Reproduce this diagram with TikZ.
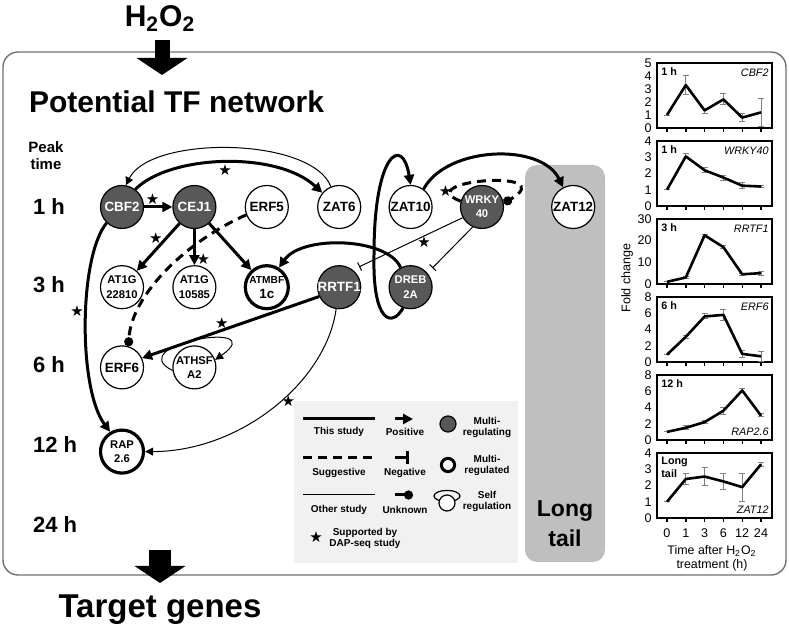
\documentclass[tikz,border=0pt]{standalone}
\usepackage{fontspec}
\setmainfont{Liberation Sans}
\newfontfamily\symfont{DejaVu Sans}
\usepackage{xcolor}
\usepackage{tikz}
\usetikzlibrary{matrix,positioning,arrows.meta}

\definecolor{nodegray}{RGB}{88,88,88}
\definecolor{legendbg}{RGB}{241,241,241}
\definecolor{tailgray}{RGB}{191,191,191}
\definecolor{framegray}{RGB}{112,112,112}
\definecolor{errgray}{RGB}{128,128,128}

\begin{document}
\begin{tikzpicture}[
x=0.5pt, y=-0.5pt,
tf/.style={
  draw,
  circle,
  fill=white,
  line width=0.6pt,
  minimum size=21.5pt,
  inner sep=-1pt,
  font=\fontsize{6.7}{7.5}\selectfont\bfseries
  },
multi/.style={fill=nodegray, text=white},
two/.style={font=\fontsize{5.6}{7.2}\selectfont\bfseries},
target/.style={line width=1.6pt},
net/.style={
  matrix of nodes,
  nodes={tf, anchor=center},
  column sep=13.6pt,
  row sep=17.5pt
  },
this/.style={line width=1.5pt},
sugg/.style={line width=1.5pt, dash pattern=on 4.5pt off 3pt},
other/.style={line width=0.5pt},
activates/.style={-{Triangle[length=#1, width=#1]}},
activates/.default=5pt,
represses/.style={-{Bar[width=#1]}},
represses/.default=4.5pt,
unclear/.style={-{Circle[length=4.5pt]}},
dap/.style={font=\symfont\fontsize{7.5}{7.5}\selectfont, inner sep=0.3pt},
hour/.style={font=\fontsize{11}{12}\selectfont\bfseries, anchor=west},
headline/.style={font=\fontsize{15}{18}\selectfont\bfseries},
legtxt/.style={font=\fontsize{5}{5.5}\selectfont\bfseries, align=center},
plotframe/.style={line width=0.7pt},
errbar/.style={draw=errgray, line width=0.45pt},
foldline/.style={line width=1.3pt, line join=round},
ticklbl/.style={font=\fontsize{6.3}{6.3}\selectfont, inner sep=1pt},
plottime/.style={font=\fontsize{5.4}{6.2}\selectfont\bfseries, align=left, inner sep=0pt},
plotgene/.style={font=\fontsize{5.4}{6}\selectfont\itshape, inner sep=0pt},
bigarrow/.style={-{Triangle[length=8.5pt, width=25pt]}}
]
\useasboundingbox (0,0) rectangle (789,625);

% frame, long tail box, legend box
\draw[draw=framegray, line width=0.7pt, rounded corners=7.5pt] (3,52) rectangle (786,575);
\fill[tailgray, rounded corners=6pt] (525,165) rectangle (605,562);
\fill[legendbg] (294,401) rectangle (518,563);

% H2O2 in, target genes out
\node[headline, anchor=base] (h2o2) at (160,27) {H\textsubscript{2}O\textsubscript{2}};
\coordinate (inflow) at (162,40);
\coordinate (inflowtip) at (162,75);
\draw[bigarrow, line width=7.5pt] (inflow) -- (inflowtip);
\coordinate (outflow) at (160,550);
\coordinate (outflowtip) at (160,583);
\draw[bigarrow, line width=11pt] (outflow) -- (outflowtip);
\node[headline, font=\fontsize{16.5}{18}\selectfont\bfseries, anchor=base] (targets) at (160,618) {Target genes};
\node[headline, anchor=base west] (tfnet) at (22,113) {Potential TF network};

% peak times
\node[font=\fontsize{7.5}{8.5}\selectfont\bfseries, align=center] (peak) at (46,156) {Peak\\time};
\foreach \lbl/\yy in {1 h/207, 3 h/285, 6 h/365, 12 h/445, 24 h/525}
  \node[hour] (h-\yy) at (26,\yy) {\lbl};

% the network
\matrix[net, matrix anchor=mat-1-1.center] (mat) at (122,207)
{
|[multi]| CBF2 & |[multi]| CEJ1 & ERF5 & ZAT6 & ZAT10 & |[multi,two]| \parbox{19pt}{\centering WRKY\\40} \\
|[two]| \parbox{19pt}{\centering AT1G\\22810} & |[two]| \parbox{19pt}{\centering AT1G\\10585} & |[target]| \parbox{19pt}{\centering{\fontsize{5.1}{6}\selectfont ATMBF}\\1c} & |[multi]| RRTF1 & |[multi,two]| \parbox{19pt}{\centering DREB\\2A} & \\
ERF6 & |[two]| \parbox{19pt}{\centering ATHSF\\A2} & & & & \\[2pt]
|[target,two]| \parbox{19pt}{\centering RAP\\2.6} & & & & & \\
};
\node[tf, right=23.5pt of mat-1-6] (zat12) {ZAT12};
\node[font=\fontsize{11.5}{15}\selectfont\bfseries, align=center] (longtail) at (565,524) {Long\\tail};

\draw[this, activates] (mat-1-1) -- node[dap, above, pos=.3] (s1) {★} (mat-1-2);
\draw[other, activates=4pt] (mat-1-4.112) .. controls +(-20,-50) and +(25,-50) .. (mat-1-1.80);
\draw[this, activates] (mat-1-1.53) .. controls +(35,-35) and +(-45,-42) .. node[dap, below, pos=.5] (s2) {★} (mat-1-4.140);
\draw[this, activates] (mat-1-2) -- node[dap, left=1pt, pos=.3] (s3) {★} (mat-2-1);
\draw[this, activates] (mat-1-2) -- node[dap, right, pos=.82] (s4) {★} (mat-2-2);
\draw[this, activates] (mat-1-2) -- (mat-2-3);
\draw[sugg, unclear] (mat-1-3.201) .. controls +(-57,25) and +(3,-53) .. (mat-3-1.73);
\draw[this, activates] (mat-2-4.205) -- node[dap, above, pos=.55] (s5) {★} (mat-3-1.25);
\draw[other, activates=4pt] (mat-3-2.188) .. controls +(-52,-26) and +(58,-41) .. (mat-3-2.20);
\draw[this, activates] (mat-2-5.117) .. controls +(-13,-30) and +(23,-33) .. (mat-2-3.58);
\draw[other, represses, shorten >=3.5pt] (mat-1-6.209) -- node[dap, below, pos=.35] (s6) {★} (mat-2-4.52);
\draw[other, represses, shorten >=3.5pt] (mat-1-6.245) -- (mat-2-5.40);
\draw[sugg, unclear] (mat-1-6.165) .. controls +(-52,-21) and +(60,-35) .. node[dap, pos=.05, above left=0pt] (s7) {★} (mat-1-6.10);
\draw[this, activates] (mat-1-5.54) .. controls +(23,-43) and +(-22,-45) .. (zat12.117);
\draw[this, activates] (mat-2-5.250) .. controls +(-11,20) and +(-2,70) .. ++(-29,-55)
  .. controls +(0,-100) and +(-8,-50) .. (mat-1-5.north);
\draw[other, activates=4pt] (mat-2-4.262) .. controls +(-10,73) and +(95,0) .. node[dap, below, pos=.42] (s8) {★} (mat-4-1.east);
\draw[this, activates] (mat-1-1.226) .. controls +(-28,34) and +(-32,-43) .. node[dap, left, pos=.45] (s9) {★} (mat-4-1.121);

% legend
\draw[this] (303,419) -- (375,419);
\node[legtxt] (l-this) at (339,432) {This study};
\draw[sugg] (303,458) -- (375,458);
\node[legtxt] (l-sugg) at (339,473) {Suggestive};
\draw[other] (303,495) -- (375,495);
\node[legtxt] (l-other) at (339,510) {Other study};
\draw[this, activates] (395,419) -- (413,419);
\node[legtxt] (l-pos) at (405,432) {Positive};
\draw[this, represses=6.5pt] (395,458) -- (409,458);
\node[legtxt] (l-neg) at (405,473) {Negative};
\draw[this, unclear] (395,495) -- (413,495);
\node[legtxt] (l-unk) at (405,510) {Unknown};
\draw[fill=nodegray, line width=0.6pt] (448,424) circle (4pt);
\node[legtxt] (l-multi) at (487,427) {Multi-\\regulating};
\draw[line width=1.5pt, fill=white] (448,465) circle (3.3pt);
\node[legtxt] (l-multd) at (487,465) {Multi-\\regulated};
\draw[line width=0.6pt] (447,496) ellipse (6.5pt and 2.8pt);
\draw[line width=0.6pt, fill=white] (447,503) circle (4pt);
\node[legtxt] (l-self) at (487,501) {Self\\regulation};
\node[dap] (l-star) at (316,537) {★};
\node[legtxt] (l-dap) at (365,538) {Supported by\\DAP-seq study};

% fold change plots
\foreach \ptop/\ymax/\ystep/\when/\gene/\gy/\pts [count=\pn] in {
  63/5/1/{1 h}/CBF2/10/{1/1/1,3.3/2.6/4.05,1.35/1.15/1.5,2.2/1.8/2.65,0.8/0.5/1.1,1.2/0.1/2.25},
  141/4/1/{1 h}/WRKY40/10/{1/1/1,3.05/2.9/3.25,2.2/2.05/2.35,1.75/1.6/1.9,1.25/1.05/1.45,1.2/1.15/1.25},
  219/30/10/{3 h}/RRTF1/10/{1/1/1,3/2.7/3.3,22.5/22/23,17/16.5/17.8,4.5/4/5,5/4/6},
  297/8/2/{6 h}/ERF6/10/{0.9/0.9/0.9,3.1/2.9/3.3,5.6/5.3/6,5.8/5.1/6.5,1/0.6/1.4,0.7/0.1/1.3},
  375/8/2/{12 h}/RAP2.6/57/{1/1/1,1.5/1.3/1.8,2.2/2/2.4,3.6/3.2/4,6.1/5.9/6.3,3/2.9/3.3},
  453/4/1/{Long\\tail}/ZAT12/57/{1/1/1,2.4/2.05/2.75,2.55/2/3.1,2.25/1.75/2.75,1.9/1/2.75,3.3/3.2/3.4}}
{
  \draw[plotframe] (657,\ptop) rectangle (772,{\ptop+65});
  \foreach \i in {0,...,5}
    \draw[plotframe] ({667+18.8*\i},{\ptop+65}) -- ++(0,4);
  \foreach \k in {0,\ystep,...,\ymax}
    \node[ticklbl, anchor=east] (yt-\pn-\k) at (654,{\ptop+65-\k*65/\ymax}) {\k};
  \foreach \v/\lo/\hi [count=\i from 0] in \pts
  {
    \draw[errbar] ({664+18.8*\i},{\ptop+65-\lo*65/\ymax}) -- ++(6,0) ++(-3,0)
      -- ({667+18.8*\i},{\ptop+65-\hi*65/\ymax}) ++(-3,0) -- ++(6,0);
    \coordinate (p\i) at ({667+18.8*\i},{\ptop+65-\v*65/\ymax});
  }
  \draw[foldline] (p0) \foreach \i in {1,...,5} {-- (p\i)};
  \node[plottime, anchor=north west] (when-\pn) at (661,{\ptop+4}) {\when};
  \node[plotgene, anchor=east] (gene-\pn) at (769,{\ptop+\gy}) {\gene};
}
\foreach \lbl [count=\i from 0] in {0,1,3,6,12,24}
  \node[ticklbl] (xt-\i) at ({667+18.8*\i},533) {\lbl};
\node[ticklbl, align=center, font=\fontsize{6.2}{7}\selectfont] (xtitle) at (712,558) {Time after H\textsubscript{2}O\textsubscript{2}\\treatment (h)};
\node[ticklbl, rotate=90] (ytitle) at (627,278) {Fold change};
\end{tikzpicture}
\end{document}
